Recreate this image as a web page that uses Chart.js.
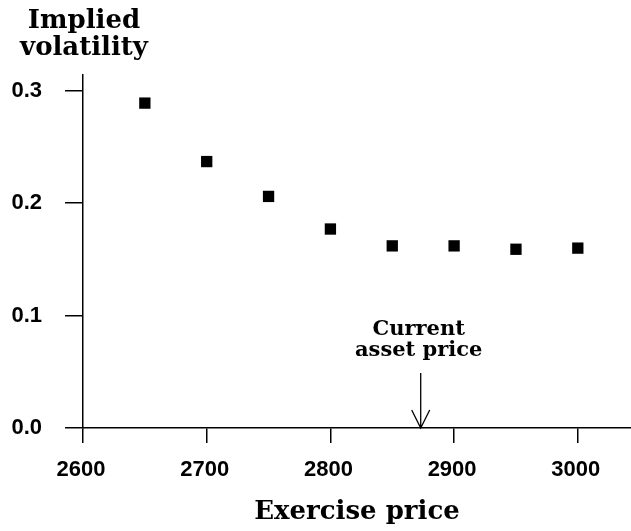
<!DOCTYPE html>
<html><head><meta charset="utf-8">
<script src="https://cdn.jsdelivr.net/npm/chart.js@4/dist/chart.umd.min.js"></script>
<style>html,body{margin:0;padding:0;background:#fff;}#wrap{width:631px;height:531px;}</style>
</head><body><div id="wrap"><canvas id="c" width="631" height="531"></canvas></div>
<script>
const exercisePrices = [2650, 2700, 2750, 2800, 2850, 2900, 2950, 3000];
const impliedVol = [0.289, 0.237, 0.206, 0.177, 0.162, 0.162, 0.159, 0.160];
const xTicks = [2600, 2700, 2800, 2900, 3000];
const yTicks = [0.0, 0.1, 0.2, 0.3];
const currentAssetPrice = 2873;
const arrowTopValue = 0.049;
const yTitleLines = ['Implied', 'volatility'];
const xTitle = 'Exercise price';
const annotationLines = ['Current', 'asset price'];

const points = exercisePrices.map((p, i) => ({x: p, y: impliedVol[i]}));

const overlay = {
  id: 'overlay',
  afterDraw(chart) {
    const {ctx, scales: {x, y}} = chart;
    ctx.save();
    ctx.fillStyle = '#000';
    ctx.strokeStyle = '#000';
    ctx.textAlign = 'center';
    ctx.textBaseline = 'alphabetic';
    ctx.font = 'bold 26px "DejaVu Serif"';
    const cx = x.left + 1;
    ctx.fillText(yTitleLines[0], cx, 28);
    ctx.fillText(yTitleLines[1], cx, 55);

    const ax = x.getPixelForValue(currentAssetPrice);
    const y0 = y.getPixelForValue(0);
    const yTop = y.getPixelForValue(arrowTopValue);
    ctx.font = 'bold 21px "DejaVu Serif"';
    ctx.fillText(annotationLines[0], ax - 2, yTop - 38);
    ctx.fillText(annotationLines[1], ax - 2, yTop - 17);

    ctx.lineWidth = 1.3;
    ctx.beginPath();
    ctx.moveTo(ax, yTop);
    ctx.lineTo(ax, y0);
    ctx.moveTo(ax - 9, y0 - 18);
    ctx.lineTo(ax, y0);
    ctx.lineTo(ax + 9, y0 - 18);
    ctx.stroke();
    ctx.restore();
  }
};

new Chart(document.getElementById('c'), {
  type: 'scatter',
  data: {
    datasets: [{
      data: points,
      pointStyle: 'rect',
      pointRadius: 8,
      pointHoverRadius: 8,
      backgroundColor: '#000',
      borderColor: '#000',
      borderWidth: 0,
      showLine: false
    }]
  },
  options: {
    responsive: false,
    animation: false,
    devicePixelRatio: 1,
    layout: {autoPadding: false, padding: {top: 75, left: 0, right: 0, bottom: 0}},
    plugins: {legend: {display: false}, tooltip: {enabled: false}, title: {display: false}},
    scales: {
      x: {
        type: 'linear',
        min: 2600,
        max: 3043,
        afterBuildTicks: s => { s.ticks = xTicks.map(v => ({value: v})); },
        afterFit: s => { s.height = 103; s.paddingRight = 0; },
        ticks: {
          font: {family: '"Liberation Sans"', weight: 'bold', size: 22},
          color: '#000',
          padding: 14,
          labelOffset: -2,
          maxRotation: 0,
          autoSkip: false,
          callback: v => String(v)
        },
        grid: {drawOnChartArea: false, drawTicks: true, tickLength: 15, color: '#000', lineWidth: 1.5},
        border: {display: true, color: '#000', width: 1.5},
        title: {
          display: true,
          text: xTitle,
          color: '#000',
          font: {family: '"DejaVu Serif"', weight: 'bold', size: 26},
          padding: {top: 0, bottom: 3}
        }
      },
      y: {
        type: 'linear',
        min: 0,
        max: 0.314,
        afterBuildTicks: s => { s.ticks = yTicks.map(v => ({value: v})); },
        afterFit: s => { s.width = 83; },
        ticks: {
          font: {family: '"Liberation Sans"', weight: 'bold', size: 22},
          color: '#000',
          padding: 23,
          callback: v => Number(v).toFixed(1)
        },
        grid: {drawOnChartArea: false, drawTicks: true, tickLength: 18, color: '#000', lineWidth: 1.5},
        border: {display: true, color: '#000', width: 1.5}
      }
    }
  },
  plugins: [overlay]
});
</script>
</body></html>
